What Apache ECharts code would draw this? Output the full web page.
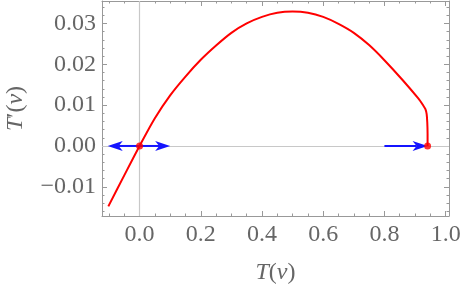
<!DOCTYPE html>
<html><head><meta charset="utf-8">
<script src="https://cdn.jsdelivr.net/npm/echarts@6/dist/echarts.min.js"></script>
<style>html,body{margin:0;padding:0;background:#fff}#c{width:463px;height:285px}</style>
</head><body><div id="c"></div>
<script>
// Curve T'(v) versus T(v)
const tv  = [-0.102, -0.05, 0, 0.05, 0.1, 0.15, 0.2, 0.25, 0.3, 0.35, 0.4, 0.45, 0.5, 0.55, 0.6, 0.65, 0.7, 0.75, 0.8, 0.86, 0.91, 0.927, 0.934, 0.938, 0.940, 0.941, 0.941];
const dtv = [-0.0148, -0.0072, 0, 0.0068, 0.0124, 0.0170, 0.0211, 0.0246, 0.0277, 0.0300, 0.0316, 0.0326, 0.0329, 0.0326, 0.0316, 0.0299, 0.0277, 0.0247, 0.0210, 0.0161, 0.0117, 0.0099, 0.0090, 0.0078, 0.0058, 0.0030, 0];
// Fixed points
const fixedX = [0, 0.941];
const fixedY = [0, 0];
// Arrows (start x, start y, end x, end y)
const arrowX0 = [0, 0, 0.8];
const arrowY0 = [0, 0, 0];
const arrowX1 = [0.1, -0.104, 0.941];
const arrowY1 = [0, 0, 0];
// Ticks
const xMajor = [0, 0.2, 0.4, 0.6, 0.8, 1.0];
const xMinor = [-0.1, -0.05, 0.05, 0.1, 0.15, 0.25, 0.3, 0.35, 0.45, 0.5, 0.55, 0.65, 0.7, 0.75, 0.85, 0.9, 0.95];
const yMajor = [-0.01, 0, 0.01, 0.02, 0.03];
const yMinor = [-0.016, -0.014, -0.012, -0.008, -0.006, -0.004, -0.002, 0.002, 0.004, 0.006, 0.008, 0.012, 0.014, 0.016, 0.018, 0.022, 0.024, 0.026, 0.028, 0.032, 0.034];
const xMin = -0.1227, xMax = 1.011, yMin = -0.01715, yMax = 0.0355;

const FONT = "'Liberation Serif', 'Times New Roman', serif";
const FS = 24;
const frameCol = '#999';
const labCol = '#666';

function xa(pos, ticks, len, labels, line) {
  return {
    type: 'value', min: xMin, max: xMax, position: pos,
    axisLine: {show: line, onZero: false, lineStyle: {color: frameCol, width: 1}},
    axisTick: {show: true, inside: true, length: len, customValues: ticks, lineStyle: {color: frameCol, width: 1}},
    axisLabel: labels ? {show: true, customValues: ticks, margin: 7, color: labCol, fontFamily: FONT, fontSize: FS,
      formatter: v => (v < 0 ? '\u2212' : '') + Math.abs(v).toFixed(1)} : {show: false},
    splitLine: {show: false}
  };
}
function ya(pos, ticks, len, labels, line) {
  return {
    type: 'value', min: yMin, max: yMax, position: pos,
    axisLine: {show: line, onZero: false, lineStyle: {color: frameCol, width: 1}},
    axisTick: {show: true, inside: true, length: len, customValues: ticks, lineStyle: {color: frameCol, width: 1}},
    axisLabel: labels ? {show: true, customValues: ticks, margin: 6, color: labCol, fontFamily: FONT, fontSize: FS,
      formatter: v => (v < 0 ? '\u2212' : '') + Math.abs(v).toFixed(2)} : {show: false},
    splitLine: {show: false}
  };
}

const xAxes = [xa('bottom', xMajor, 5, true, true), xa('bottom', xMinor, 2.5, false, false),
               xa('top', xMajor, 5, false, true), xa('top', xMinor, 2.5, false, false)];
const yAxes = [ya('left', yMajor, 5, true, true), ya('left', yMinor, 2.5, false, false),
               ya('right', yMajor, 5, false, true), ya('right', yMinor, 2.5, false, false)];

const nameStyle = {color: labCol, fontFamily: FONT, fontSize: FS,
  rich: {i: {fontStyle: 'italic', fontFamily: FONT, fontSize: FS, color: labCol}}};
xAxes[0].name = '{i|T}({i|v})';
xAxes[0].nameLocation = 'middle';
xAxes[0].nameGap = 45;
xAxes[0].nameTextStyle = nameStyle;
yAxes[0].name = '{i|T}\u2032({i|v})';
yAxes[0].nameLocation = 'middle';
yAxes[0].nameRotate = 90;
yAxes[0].nameGap = 74;
yAxes[0].nameTextStyle = nameStyle;

const chart = echarts.init(document.getElementById('c'), null, {renderer: 'canvas'});
chart.setOption({
  animation: false,
  grid: {left: 102, right: 14, top: 1, bottom: 69, containLabel: false, outerBoundsMode: 'none'},
  xAxis: xAxes,
  yAxis: yAxes,
  series: [
    {
      type: 'line', xAxisIndex: 0, yAxisIndex: 0, data: [], silent: true, z: 1,
      markLine: {silent: true, z: 1, symbol: 'none', label: {show: false},
        lineStyle: {color: '#c8c8c8', width: 1.2, type: 'solid'},
        data: [{xAxis: 0}, {yAxis: 0}]}
    },
    {
      type: 'line', xAxisIndex: 0, yAxisIndex: 0, showSymbol: false, smooth: 0.3,
      data: tv.map((x, i) => [x, dtv[i]]),
      lineStyle: {color: '#ff0000', width: 2}, z: 6
    },
    {
      type: 'custom', xAxisIndex: 0, yAxisIndex: 0, z: 7,
      data: arrowX0.map((x, i) => [x, arrowY0[i], arrowX1[i], arrowY1[i]]),
      encode: {x: [0, 2], y: [1, 3]},
      renderItem: function (params, api) {
        const p0 = api.coord([api.value(0), api.value(1)]);
        const p1 = api.coord([api.value(2), api.value(3)]);
        const dx = p1[0] - p0[0], dy = p1[1] - p0[1];
        const d = Math.sqrt(dx * dx + dy * dy);
        const ux = dx / d, uy = dy / d, nx = -uy, ny = ux;
        const L = 15, W = 5, N = 4;
        const back = [p1[0] - ux * L, p1[1] - uy * L];
        const notch = [p1[0] - ux * (L - N), p1[1] - uy * (L - N)];
        return {
          type: 'group',
          children: [
            {type: 'line', shape: {x1: p0[0], y1: p0[1], x2: notch[0], y2: notch[1]},
              style: {stroke: '#1414ff', lineWidth: 2}},
            {type: 'polygon', shape: {points: [p1, [back[0] + nx * W, back[1] + ny * W], notch, [back[0] - nx * W, back[1] - ny * W]]},
              style: {fill: '#1414ff', stroke: null}}
          ]
        };
      }
    },
    {
      type: 'scatter', xAxisIndex: 0, yAxisIndex: 0, z: 8,
      data: fixedX.map((x, i) => [x, fixedY[i]]),
      symbol: 'circle', symbolSize: 7, itemStyle: {color: '#ff0000'}
    }
  ]
});
</script></body></html>
